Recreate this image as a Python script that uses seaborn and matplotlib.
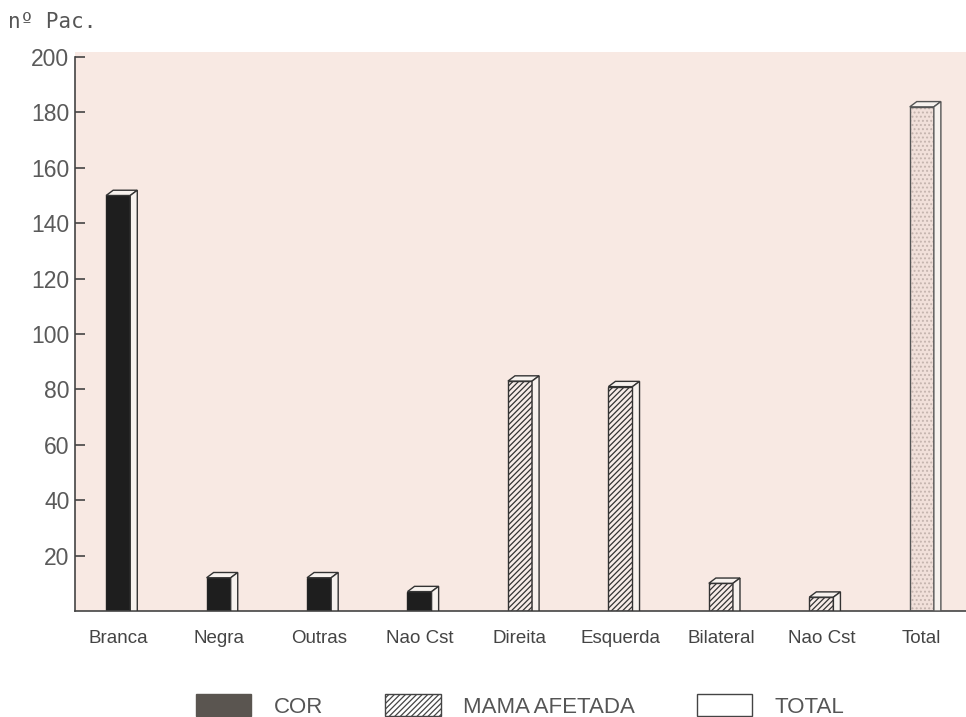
import numpy as np
import pandas as pd
import matplotlib
matplotlib.use("Agg")
import matplotlib.pyplot as plt
import seaborn as sns
from matplotlib.patches import Patch, Polygon, Rectangle

# ---- data ----
keys = ["Branca", "Negra", "Outras", "Nao Cst (cor)", "Direita", "Esquerda",
        "Bilateral", "Nao Cst (mama)", "Total"]
labels = ["Branca", "Negra", "Outras", "Nao Cst", "Direita", "Esquerda",
          "Bilateral", "Nao Cst", "Total"]
values = [150, 12, 12, 7, 83, 81, 10, 5, 182]
groups = ["COR", "COR", "COR", "COR", "MAMA AFETADA", "MAMA AFETADA",
          "MAMA AFETADA", "MAMA AFETADA", "TOTAL"]
group_names = ["COR", "MAMA AFETADA", "TOTAL"]
yticks = [20, 40, 60, 80, 100, 120, 140, 160, 180, 200]

df = pd.DataFrame({"key": keys, "value": values, "group": groups})

sns.set_theme(style="white")
plt.rcParams["font.family"] = ["Liberation Sans", "DejaVu Sans"]
plt.rcParams["hatch.linewidth"] = 0.9

W, H = 966, 717
fig = plt.figure(figsize=(W / 100, H / 100), dpi=100, facecolor="white")
ax = fig.add_axes([75 / W, 1 - 611 / H, 1 - 75 / W, (611 - 52) / H])
ax.set_facecolor("#f8e9e3")

sns.barplot(data=df, x="key", y="value", hue="group", order=keys,
            hue_order=group_names, dodge=False, width=0.24, saturation=1,
            palette={"COR": "#1e1e1e", "MAMA AFETADA": "#f7ece8", "TOTAL": "#f1e0da"},
            legend=False, ax=ax)

bar_edge = "#333333"
for cont, g in zip(ax.containers, group_names):
    for p in cont:
        if g == "COR":
            p.set_edgecolor("#222222")
            p.set_linewidth(1.0)
        elif g == "MAMA AFETADA":
            p.set_edgecolor(bar_edge)
            p.set_hatch("//////")
            p.set_linewidth(1.0)
        else:
            p.set_edgecolor("#c4b4ae")
            p.set_hatch("....")
            p.set_linewidth(0)

# 3-D extrusion derived from the drawn bars
dx, dy = 0.07, 1.9
bars = [p for cont in ax.containers for p in cont]
for p in bars:
    x0, w, h = p.get_x(), p.get_width(), p.get_height()
    if np.isnan(h):
        continue
    ec = "#555555" if p.get_hatch() == "...." else bar_edge
    if p.get_hatch() == "....":
        ax.add_patch(Rectangle((x0, 0), w, h, fill=False, edgecolor=ec, lw=1.0, zorder=3))
    top = [(x0, h), (x0 + dx, h + dy), (x0 + w + dx, h + dy), (x0 + w, h)]
    side = [(x0 + w, 0), (x0 + w, h), (x0 + w + dx, h + dy), (x0 + w + dx, 0)]
    ax.add_patch(Polygon(top, closed=True, facecolor="#f7f2ee", edgecolor=ec, lw=1.0, zorder=3))
    ax.add_patch(Polygon(side, closed=True, facecolor="#f7f2ee", edgecolor=ec, lw=1.0, zorder=3))

ax.set_xlim(-0.43, 8.44)
ax.set_ylim(0, 201.8)
ax.set_xlabel("")
ax.set_ylabel("")

for s in ["top", "right"]:
    ax.spines[s].set_visible(False)
ax.spines["left"].set_bounds(0, 200)
ax.spines["left"].set_color("#444444")
ax.spines["bottom"].set_color("#444444")
ax.spines["left"].set_linewidth(1.2)
ax.spines["bottom"].set_linewidth(1.2)

ax.set_yticks(yticks)
ax.set_yticklabels([str(t) for t in yticks])
ax.tick_params(axis="y", direction="in", length=7, width=1.2, color="#444444",
               labelsize=16.5, labelcolor="#5a5a5a", pad=4, left=True)
ax.set_xticks(range(len(labels)))
ax.set_xticklabels(labels)
ax.tick_params(axis="x", length=0, pad=14, labelsize=13.5, labelcolor="#444444")

fig.text(8 / W, 1 - 22 / H, "nº Pac.", family="DejaVu Sans Mono", size=15,
         va="center", ha="left", color="#555555")

handles = [
    Patch(facecolor="#5a5550", edgecolor="#5a5550"),
    Patch(facecolor="white", edgecolor="#444444", hatch="//////"),
    Patch(facecolor="white", edgecolor="#444444"),
]
fig.legend(handles, group_names, loc="center", bbox_to_anchor=(520 / W, 1 - 706 / H),
           ncol=3, frameon=False, fontsize=16, handlelength=2.5, handleheight=1.1,
           columnspacing=2.8, handletextpad=1.0, labelcolor="#555555")

fig.savefig("out.png", dpi=100, facecolor="white")
